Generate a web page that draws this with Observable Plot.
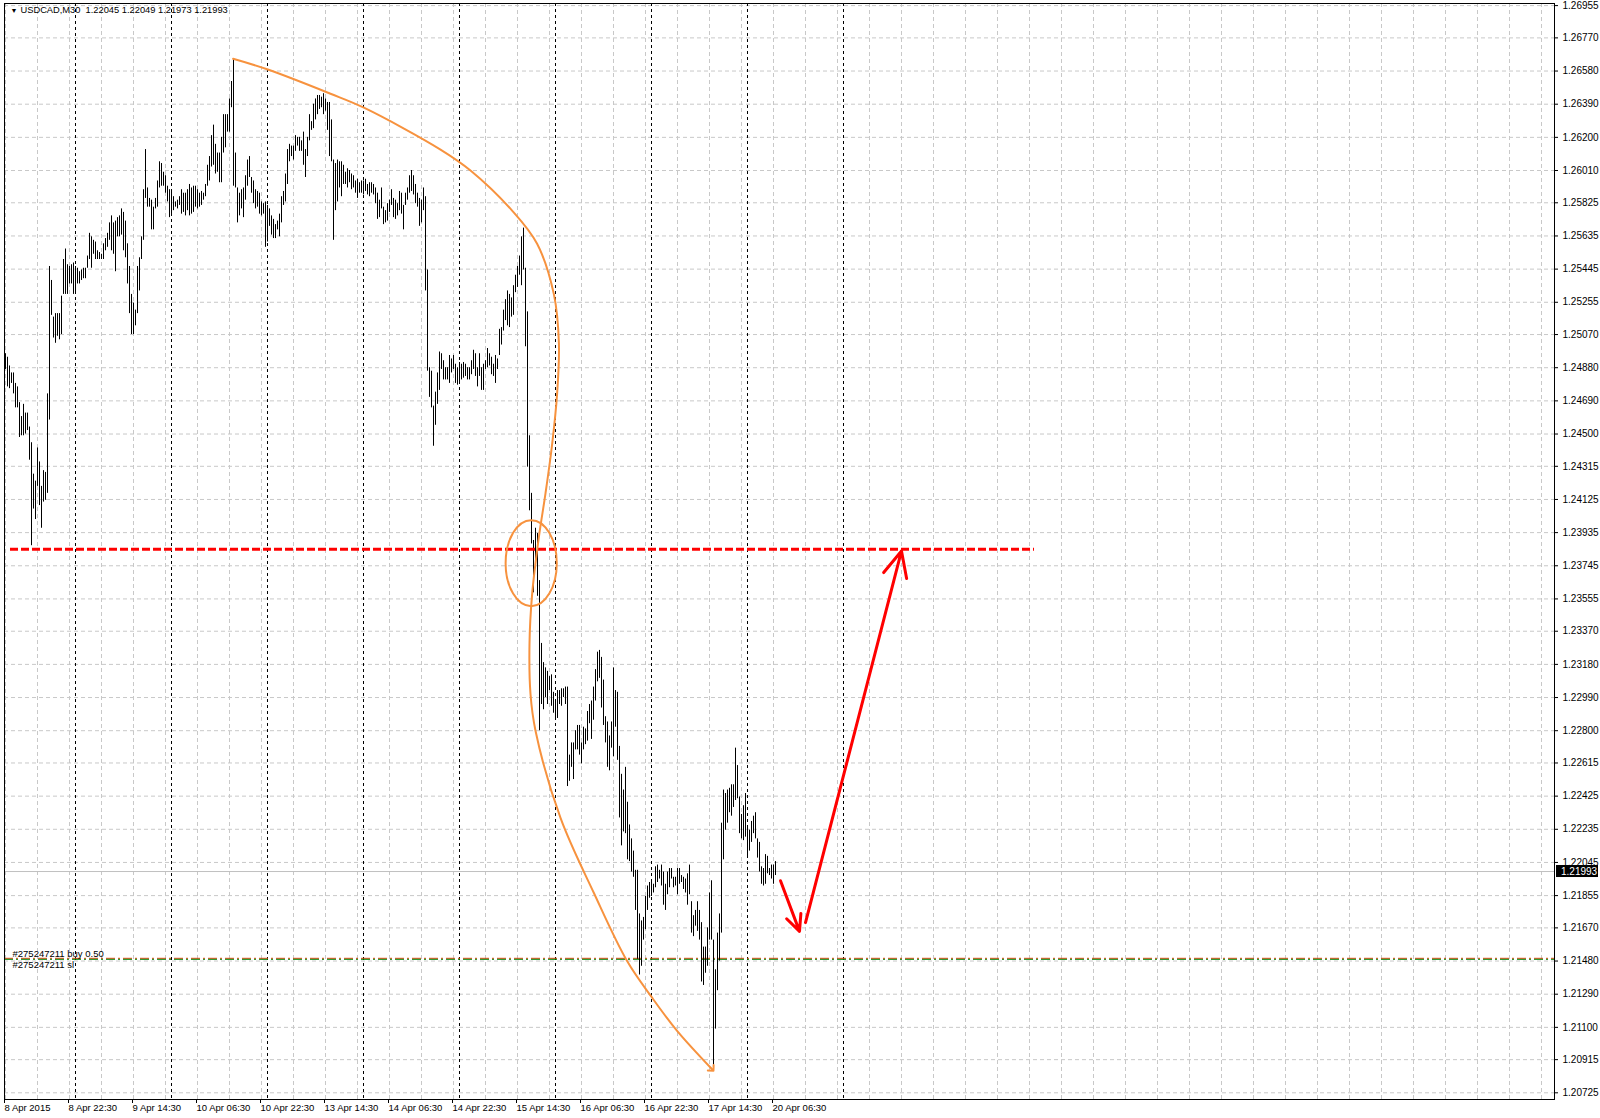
<!DOCTYPE html>
<html><head><meta charset="utf-8">
<script src="https://cdn.jsdelivr.net/npm/d3@7"></script>
<script src="https://cdn.jsdelivr.net/npm/@observablehq/plot@0.6"></script>
<style>
html,body{margin:0;padding:0;background:#fff;}
#chart svg{display:block;}
</style></head><body><div id="chart"></div>
<script>
// ---- data ----
const symbolName = "USDCAD,M30";
const lastBarOHLC = [1.22045, 1.22049, 1.21973, 1.21993];

const barHigh = [
1.2496,1.2494,1.2489,1.2485,1.2485,1.2479,1.2477,1.2468,1.2460,1.2467,
1.2462,1.2462,1.2454,1.2445,1.2427,1.2423,1.2442,1.2434,1.2420,1.2429,
1.2428,1.2473,1.2546,1.2538,1.2517,1.2519,1.2519,1.2519,1.2529,1.2550,
1.2556,1.2547,1.2546,1.2547,1.2548,1.2546,1.2545,1.2543,1.2544,1.2545,
1.2545,1.2552,1.2565,1.2563,1.2561,1.2560,1.2555,1.2554,1.2553,1.2559,
1.2562,1.2565,1.2571,1.2575,1.2571,1.2572,1.2574,1.2575,1.2579,1.2577,
1.2572,1.2559,1.2546,1.2530,1.2525,1.2521,1.2546,1.2551,1.2563,1.2590,
1.2613,1.2591,1.2585,1.2584,1.2580,1.2585,1.2595,1.2606,1.2605,1.2600,
1.2598,1.2592,1.2590,1.2590,1.2586,1.2583,1.2584,1.2586,1.2590,1.2588,
1.2588,1.2590,1.2593,1.2591,1.2592,1.2592,1.2590,1.2588,1.2589,1.2588,
1.2593,1.2604,1.2609,1.2621,1.2627,1.2616,1.2611,1.2611,1.2620,1.2633,
1.2633,1.2633,1.2642,1.2652,1.2665,1.2611,1.2591,1.2588,1.2590,1.2591,
1.2598,1.2607,1.2609,1.2597,1.2595,1.2590,1.2589,1.2588,1.2583,1.2582,
1.2583,1.2581,1.2579,1.2575,1.2573,1.2570,1.2572,1.2576,1.2586,1.2589,
1.2599,1.2613,1.2616,1.2615,1.2615,1.2621,1.2620,1.2620,1.2618,1.2623,
1.2613,1.2620,1.2633,1.2629,1.2639,1.2642,1.2644,1.2644,1.2643,1.2645,
1.2642,1.2640,1.2640,1.2630,1.2607,1.2605,1.2607,1.2606,1.2606,1.2604,
1.2600,1.2602,1.2601,1.2599,1.2598,1.2595,1.2596,1.2594,1.2595,1.2595,
1.2596,1.2593,1.2594,1.2594,1.2593,1.2591,1.2588,1.2584,1.2591,1.2580,
1.2578,1.2582,1.2584,1.2590,1.2585,1.2584,1.2582,1.2589,1.2588,1.2581,
1.2588,1.2591,1.2598,1.2601,1.2598,1.2593,1.2588,1.2585,1.2584,1.2591,
1.2586,1.2544,1.2488,1.2486,1.2466,1.2474,1.2485,1.2497,1.2496,1.2492,
1.2488,1.2488,1.2495,1.2493,1.2495,1.2490,1.2488,1.2491,1.2490,1.2491,
1.2490,1.2488,1.2488,1.2492,1.2498,1.2496,1.2488,1.2496,1.2488,1.2490,
1.2492,1.2499,1.2496,1.2494,1.2490,1.2495,1.2493,1.2510,1.2511,1.2521,
1.2527,1.2532,1.2530,1.2528,1.2535,1.2541,1.2546,1.2552,1.2563,1.2568,
1.2545,1.2520,1.2449,1.2416,1.2389,1.2396,1.2393,1.2366,1.2330,1.2319,
1.2316,1.2314,1.2311,1.2312,1.2302,1.2297,1.2303,1.2303,1.2304,1.2304,
1.2305,1.2305,1.2266,1.2273,1.2273,1.2280,1.2283,1.2283,1.2273,1.2282,
1.2281,1.2291,1.2295,1.2297,1.2305,1.2315,1.2325,1.2326,1.2322,1.2309,
1.2288,1.2285,1.2277,1.2285,1.2316,1.2303,1.2302,1.2271,1.2255,1.2246,
1.2259,1.2239,1.2226,1.2218,1.2211,1.2200,1.2200,1.2175,1.2171,1.2173,
1.2185,1.2191,1.2193,1.2194,1.2192,1.2202,1.2203,1.2200,1.2203,1.2199,
1.2192,1.2199,1.2201,1.2201,1.2196,1.2196,1.2201,1.2201,1.2197,1.2196,
1.2195,1.2198,1.2203,1.2182,1.2174,1.2177,1.2182,1.2177,1.2170,1.2156,
1.2156,1.2167,1.2187,1.2194,1.2160,1.2143,1.2164,1.2175,1.2227,1.2246,
1.2244,1.2246,1.2247,1.2249,1.2249,1.2270,1.2260,1.2242,1.2232,1.2237,
1.2244,1.2225,1.2223,1.2228,1.2231,1.2233,1.2218,1.2216,1.2202,1.2201,
1.2209,1.2208,1.2201,1.2203,1.2203,1.2205];

const barLow = [
1.2487,1.2477,1.2476,1.2479,1.2473,1.2465,1.2465,1.2448,1.2449,1.2449,
1.2450,1.2452,1.2435,1.2386,1.2407,1.2401,1.2420,1.2409,1.2396,1.2411,
1.2412,1.2416,1.2458,1.2518,1.2505,1.2502,1.2506,1.2504,1.2507,1.2530,
1.2530,1.2530,1.2536,1.2536,1.2530,1.2530,1.2536,1.2536,1.2538,1.2539,
1.2539,1.2545,1.2550,1.2545,1.2553,1.2550,1.2550,1.2550,1.2550,1.2550,
1.2555,1.2557,1.2561,1.2555,1.2553,1.2543,1.2563,1.2563,1.2564,1.2555,
1.2551,1.2536,1.2519,1.2507,1.2507,1.2512,1.2519,1.2532,1.2550,1.2561,
1.2585,1.2580,1.2580,1.2567,1.2567,1.2579,1.2580,1.2591,1.2592,1.2592,
1.2588,1.2583,1.2574,1.2576,1.2578,1.2580,1.2579,1.2581,1.2576,1.2577,
1.2575,1.2578,1.2575,1.2576,1.2577,1.2580,1.2579,1.2580,1.2581,1.2584,
1.2586,1.2592,1.2595,1.2603,1.2604,1.2599,1.2600,1.2594,1.2594,1.2611,
1.2614,1.2623,1.2623,1.2637,1.2592,1.2591,1.2571,1.2575,1.2579,1.2574,
1.2584,1.2592,1.2597,1.2588,1.2582,1.2579,1.2580,1.2576,1.2575,1.2576,
1.2557,1.2560,1.2569,1.2564,1.2562,1.2562,1.2567,1.2563,1.2571,1.2581,
1.2583,1.2593,1.2606,1.2609,1.2607,1.2612,1.2615,1.2612,1.2612,1.2604,
1.2597,1.2609,1.2618,1.2624,1.2625,1.2630,1.2633,1.2636,1.2637,1.2633,
1.2635,1.2624,1.2609,1.2606,1.2561,1.2578,1.2583,1.2591,1.2586,1.2593,
1.2593,1.2591,1.2594,1.2590,1.2591,1.2588,1.2585,1.2588,1.2588,1.2587,
1.2589,1.2587,1.2586,1.2588,1.2587,1.2582,1.2573,1.2574,1.2579,1.2570,
1.2571,1.2572,1.2577,1.2581,1.2574,1.2573,1.2575,1.2578,1.2576,1.2567,
1.2581,1.2584,1.2588,1.2589,1.2587,1.2582,1.2580,1.2569,1.2571,1.2578,
1.2532,1.2486,1.2471,1.2465,1.2443,1.2455,1.2467,1.2475,1.2487,1.2481,
1.2481,1.2481,1.2479,1.2485,1.2487,1.2479,1.2478,1.2480,1.2481,1.2482,
1.2483,1.2481,1.2481,1.2484,1.2487,1.2483,1.2477,1.2483,1.2475,1.2475,
1.2487,1.2488,1.2489,1.2484,1.2483,1.2479,1.2487,1.2495,1.2501,1.2509,
1.2515,1.2512,1.2511,1.2517,1.2518,1.2531,1.2534,1.2541,1.2535,1.2544,
1.2500,1.2431,1.2406,1.2387,1.2359,1.2375,1.2357,1.2280,1.2295,1.2292,
1.2299,1.2295,1.2303,1.2294,1.2290,1.2286,1.2287,1.2295,1.2294,1.2299,
1.2295,1.2248,1.2251,1.2259,1.2252,1.2269,1.2269,1.2266,1.2261,1.2269,
1.2272,1.2274,1.2284,1.2275,1.2286,1.2297,1.2308,1.2310,1.2293,1.2283,
1.2273,1.2259,1.2257,1.2270,1.2265,1.2282,1.2263,1.2230,1.2214,1.2222,
1.2221,1.2206,1.2205,1.2199,1.2196,1.2177,1.2149,1.2140,1.2145,1.2160,
1.2166,1.2177,1.2184,1.2185,1.2187,1.2190,1.2193,1.2195,1.2191,1.2180,
1.2177,1.2186,1.2190,1.2195,1.2190,1.2191,1.2186,1.2192,1.2193,1.2189,
1.2187,1.2180,1.2186,1.2164,1.2162,1.2168,1.2165,1.2160,1.2136,1.2134,
1.2141,1.2145,1.2160,1.2160,1.2087,1.2109,1.2131,1.2148,1.2164,1.2206,
1.2223,1.2227,1.2233,1.2231,1.2236,1.2240,1.2241,1.2221,1.2218,1.2217,
1.2219,1.2207,1.2211,1.2216,1.2221,1.2218,1.2207,1.2199,1.2192,1.2191,
1.2192,1.2198,1.2197,1.2195,1.2192,1.2197];

const timeLabels = ["8 Apr 2015","8 Apr 22:30","9 Apr 14:30","10 Apr 06:30","10 Apr 22:30","13 Apr 14:30","14 Apr 06:30","14 Apr 22:30","15 Apr 14:30","16 Apr 06:30","16 Apr 22:30","17 Apr 14:30","20 Apr 06:30"];
const timeLabelBars = [0,32,64,96,128,160,192,224,256,288,320,352,384];
const daySeparatorBars = [35,83,131,179,227,275,323,371,419];
const priceTicks = [1.26955,1.26770,1.26580,1.26390,1.26200,1.26010,1.25825,1.25635,1.25445,1.25255,1.25070,1.24880,1.24690,1.24500,1.24315,1.24125,1.23935,1.23745,1.23555,1.23370,1.23180,1.22990,1.22800,1.22615,1.22425,1.22235,1.22045,1.21855,1.21670,1.21480,1.21290,1.21100,1.20915,1.20725];

const levelPrice = [1.2384];
const levelFromBar = [2.5];
const levelToBar = [514.5];

const orderPrice = [1.2149];
const orderBuyText = ["#275247211 buy 0.50"];
const orderSlText = ["#275247211 sl"];
const orderTextBar = [3.5];

const curveBar = [113.8,130.8,162.5,179.2,217.5,232.5,253.3,265.8,274.2,276.7,275.8,273.3,270.0,266.7,263.3,262.0,262.5,265.0,277.5,294.2,310.8,323.3,335.8,353.3];
const curvePrice = [1.2665,1.2659,1.2645,1.2637,1.2613,1.2601,1.2578,1.2559,1.2530,1.2502,1.2473,1.2444,1.2416,1.2391,1.2358,1.2330,1.2301,1.2280,1.2230,1.2187,1.2148,1.2127,1.2108,1.2086];

const ellipseBar = [262.85];
const ellipsePrice = [1.2376];

const arrowFromBar = [387.5, 400];
const arrowFromPrice = [1.2194, 1.2170];
const arrowToBar = [397, 448];
const arrowToPrice = [1.2165, 1.2383];

// ---- build tables ----
const bars = barHigh.map((h, i) => ({i, high: h, low: barLow[i]}));
const curve = curveBar.map((b, i) => ({bar: b, price: curvePrice[i]}));
const arrows = arrowFromBar.map((b, i) => ({x1: b, y1: arrowFromPrice[i], x2: arrowToBar[i], y2: arrowToPrice[i]}));
const level = levelPrice.map((p, i) => ({price: p, from: levelFromBar[i], to: levelToBar[i]}));
const ellipse = ellipseBar.map((b, i) => ({bar: b, price: ellipsePrice[i]}));
const buyLabel = orderBuyText.map(t => ({text: t, bar: orderTextBar[0], price: orderPrice[0]}));
const slLabel = orderSlText.map(t => ({text: t, bar: orderTextBar[0], price: orderPrice[0]}));
const labelMap = new Map(timeLabelBars.map((b, i) => [b, timeLabels[i]]));
const gridBars = d3.range(0, 775, 16);
const header = [symbolName + "  " + lastBarOHLC.map(v => v.toFixed(5)).join(" ")];
const lastClose = lastBarOHLC[3];

const ellipseSymbol = {
  draw(ctx, size) {
    const r = Math.sqrt(size / Math.PI);
    const rx = r * 0.595, ry = r, k = 0.5523;
    ctx.moveTo(rx, 0);
    ctx.bezierCurveTo(rx, k * ry, k * rx, ry, 0, ry);
    ctx.bezierCurveTo(-k * rx, ry, -rx, k * ry, -rx, 0);
    ctx.bezierCurveTo(-rx, -k * ry, -k * rx, -ry, 0, -ry);
    ctx.bezierCurveTo(k * rx, -ry, rx, -k * ry, rx, 0);
    ctx.closePath();
  }
};

const orange = "#f7923e";
const font = "'Liberation Sans', Arial, sans-serif";

const chart = Plot.plot({
  width: 1600, height: 1118,
  marginLeft: 4, marginRight: 46, marginTop: 3, marginBottom: 19,
  style: {fontFamily: font, fontSize: "10px", background: "#fff", color: "#000"},
  x: {domain: [0, 774.5], range: [5, 1554]},
  y: {domain: [1.20725, 1.26955], range: [1092.3, 5.1]},
  marks: [
    Plot.gridY(priceTicks, {stroke: "#c8c8c8", strokeOpacity: 1, strokeDasharray: "4,3"}),
    Plot.gridX(gridBars, {stroke: "#c8c8c8", strokeOpacity: 1, strokeDasharray: "4,3"}),
    Plot.ruleX(daySeparatorBars, {stroke: "#000", strokeWidth: 1, strokeDasharray: "3,3"}),
    Plot.ruleY([lastClose], {stroke: "#c0c0c0", strokeWidth: 1}),
    Plot.ruleY(orderPrice, {stroke: "#e8400c", strokeWidth: 1, strokeDasharray: "9,3,2,3", dy: -1}),
    Plot.ruleY(orderPrice, {stroke: "#008000", strokeWidth: 1, strokeDasharray: "9,3,2,3"}),
    Plot.ruleX(bars, {x: "i", y1: "low", y2: "high", stroke: "#000", strokeWidth: 1}),
    Plot.ruleY(level, {y: "price", x1: "from", x2: "to", stroke: "#ff0000", strokeWidth: 3, strokeDasharray: "8,3"}),
    Plot.line(curve, {x: "bar", y: "price", curve: "catmull-rom", stroke: orange, strokeWidth: 2, markerEnd: "arrow"}),
    Plot.dot(ellipse, {x: "bar", y: "price", r: 43, symbol: ellipseSymbol, stroke: orange, strokeWidth: 2, fill: "none"}),
    Plot.arrow(arrows, {x1: "x1", y1: "y1", x2: "x2", y2: "y2", stroke: "#ff0000", strokeWidth: 3, headLength: 14, headAngle: 50}),
    Plot.text(buyLabel, {x: "bar", y: "price", text: "text", textAnchor: "start", lineAnchor: "bottom", dy: -2, fontSize: 9.5, fill: "#000"}),
    Plot.text(slLabel, {x: "bar", y: "price", text: "text", textAnchor: "start", lineAnchor: "top", dy: 2, fontSize: 9.5, fill: "#000"}),
    Plot.text(["\u25BC"], {frameAnchor: "top-left", dx: 6, dy: 5, fontSize: 7, textAnchor: "start", lineAnchor: "top", text: d => d}),
    Plot.text(header, {frameAnchor: "top-left", dx: 16, dy: 3, textAnchor: "start", lineAnchor: "top", text: d => d, fontSize: 9.3}),
    Plot.frame({stroke: "#000", strokeWidth: 1}),
    Plot.axisY(priceTicks, {anchor: "right", tickSize: 3, tickPadding: 5, tickFormat: d => d.toFixed(5), label: null}),
    Plot.axisX(timeLabelBars, {anchor: "bottom", tickSize: 4, tickPadding: 1, textAnchor: "start", dx: -1, fontSize: 9.5, tickFormat: d => labelMap.get(d), label: null})
  ]
});

document.getElementById("chart").appendChild(chart);

// current price marker on the price scale, positioned with Plot's own y scale
const yPos = chart.scale("y").apply(lastClose);
const svg = d3.select(chart.tagName.toLowerCase() === "svg" ? chart : chart.querySelector("svg"));
const g = svg.append("g");
g.append("rect").attr("x", 1556).attr("y", yPos - 6).attr("width", 42).attr("height", 12).attr("fill", "#000");
g.append("text").attr("x", 1561).attr("y", yPos).attr("dy", "0.35em").attr("fill", "#fff")
  .attr("text-anchor", "start").attr("font-size", 10).attr("font-family", font).text(lastClose.toFixed(5));
</script>
</body></html>
